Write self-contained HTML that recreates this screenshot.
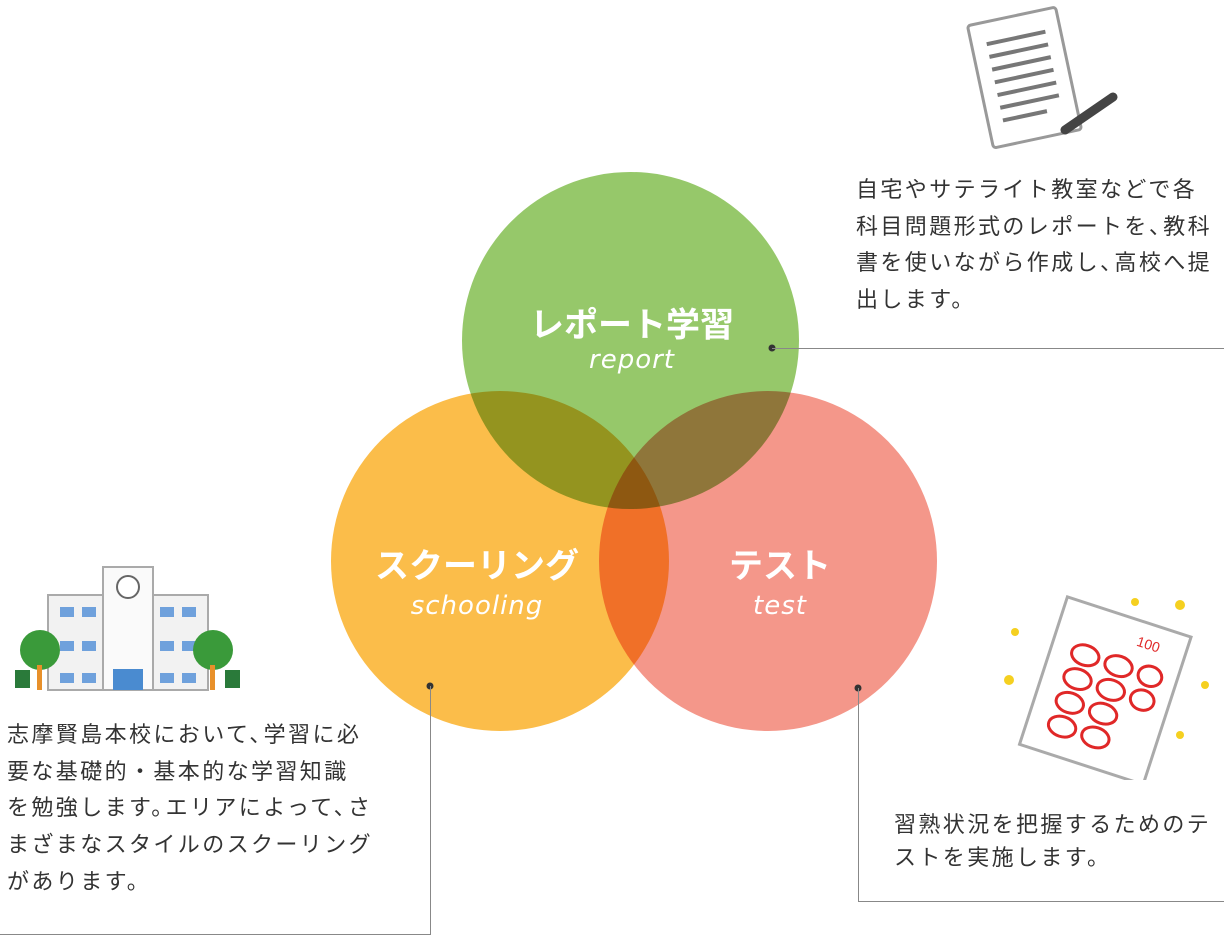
<!DOCTYPE html>
<html><head><meta charset="utf-8"><style>
html,body{margin:0;padding:0;background:#fff}
body{width:1224px;height:938px;position:relative;overflow:hidden;font-family:"Liberation Sans","Noto Sans CJK JP",sans-serif}
.c{position:absolute;border-radius:50%;mix-blend-mode:multiply}
.t{position:absolute;color:#333;font-size:22px;line-height:36.7px;white-space:nowrap;letter-spacing:2.4px}
.p{margin-right:-10px}
.lab{position:absolute;color:#fff;font-weight:bold;font-size:34px;transform:translate(-50%,-50%);white-space:nowrap}
.sub{position:absolute;color:#fff;font-size:26px;font-style:italic;font-family:"DejaVu Sans",sans-serif;transform:translate(-50%,-50%);font-weight:normal;letter-spacing:1px}
.ln{position:absolute;background:#888}
.dot{position:absolute;width:7px;height:7px;border-radius:50%;background:#333;transform:translate(-50%,-50%)}
</style></head><body>
<div class="c" style="left:462px;top:172px;width:337px;height:337px;background:#96c86a"></div>
<div class="c" style="left:331px;top:391px;width:338px;height:340px;background:#fbbd4a"></div>
<div class="c" style="left:599px;top:391px;width:338px;height:340px;background:#f4978a"></div>

<div class="lab" style="left:632px;top:322px">レポート学習</div>
<div class="sub" style="left:632px;top:360px">report</div>
<div class="lab" style="left:477px;top:563px">スクーリング</div>
<div class="sub" style="left:477px;top:606px">schooling</div>
<div class="lab" style="left:780px;top:563px">テスト</div>
<div class="sub" style="left:780px;top:606px">test</div>

<div class="dot" style="left:772px;top:348px"></div>
<div class="ln" style="left:772px;top:348px;width:452px;height:1px"></div>
<div class="dot" style="left:430px;top:686px"></div>
<div class="ln" style="left:430px;top:686px;width:1px;height:249px"></div>
<div class="ln" style="left:0;top:934px;width:431px;height:1px"></div>
<div class="dot" style="left:858px;top:688px"></div>
<div class="ln" style="left:858px;top:688px;width:1px;height:214px"></div>
<div class="ln" style="left:858px;top:901px;width:366px;height:1px"></div>

<div class="t" style="left:856px;top:172px">自宅やサテライト教室などで各<br>科目問題形式のレポートを<span class="p">、</span>教科<br>書を使いながら作成し<span class="p">、</span>高校へ提<br>出します。</div>
<div class="t" style="left:7px;top:717px">志摩賢島本校において<span class="p">、</span>学習に必<br>要な基礎的・基本的な学習知識<br>を勉強します<span class="p">。</span>エリアによって<span class="p">、</span>さ<br>まざまなスタイルのスクーリング<br>があります。</div>
<div class="t" style="left:894px;top:808px;line-height:33px">習熟状況を把握するためのテ<br>ストを実施します。</div>

<svg style="position:absolute;left:960px;top:5px" width="170" height="150">
<g transform="rotate(-12 65 75)"><rect x="20" y="10" width="90" height="125" fill="#fff" stroke="#999" stroke-width="3" rx="3"/>
<g stroke="#777" stroke-width="4"><line x1="35" y1="32" x2="95" y2="32"/><line x1="35" y1="45" x2="95" y2="45"/><line x1="35" y1="58" x2="95" y2="58"/><line x1="35" y1="71" x2="95" y2="71"/><line x1="35" y1="84" x2="95" y2="84"/><line x1="35" y1="97" x2="95" y2="97"/><line x1="35" y1="110" x2="80" y2="110"/></g></g>
<line x1="105" y1="125" x2="153" y2="92" stroke="#444" stroke-width="9" stroke-linecap="round"/>
</svg>

<svg style="position:absolute;left:15px;top:565px" width="225" height="130">
<rect x="33" y="30" width="160" height="95" fill="#f2f2f2" stroke="#aaa" stroke-width="2"/>
<rect x="88" y="2" width="50" height="123" fill="#fafafa" stroke="#aaa" stroke-width="2"/>
<circle cx="113" cy="22" r="11" fill="#fff" stroke="#666" stroke-width="2"/>
<g fill="#6fa1dc"><rect x="45" y="42" width="14" height="10"/><rect x="67" y="42" width="14" height="10"/><rect x="145" y="42" width="14" height="10"/><rect x="167" y="42" width="14" height="10"/>
<rect x="45" y="76" width="14" height="10"/><rect x="67" y="76" width="14" height="10"/><rect x="145" y="76" width="14" height="10"/><rect x="167" y="76" width="14" height="10"/>
<rect x="45" y="108" width="14" height="10"/><rect x="67" y="108" width="14" height="10"/><rect x="145" y="108" width="14" height="10"/><rect x="167" y="108" width="14" height="10"/>
<rect x="98" y="104" width="30" height="21" fill="#4a8bd0"/></g>
<circle cx="25" cy="85" r="20" fill="#3a9a3a"/><rect x="22" y="100" width="5" height="25" fill="#e8902a"/>
<circle cx="198" cy="85" r="20" fill="#3a9a3a"/><rect x="195" y="100" width="5" height="25" fill="#e8902a"/>
<rect x="0" y="105" width="15" height="18" fill="#2a7a3a"/><rect x="210" y="105" width="15" height="18" fill="#2a7a3a"/>
</svg>

<svg style="position:absolute;left:995px;top:590px" width="225" height="190">
<g transform="rotate(18 100 100)"><rect x="45" y="20" width="130" height="155" fill="#fff" stroke="#aaa" stroke-width="3"/>
<g fill="none" stroke="#e02828" stroke-width="3"><ellipse cx="80" cy="70" rx="14" ry="10"/><ellipse cx="80" cy="95" rx="14" ry="10"/><ellipse cx="80" cy="120" rx="14" ry="10"/><ellipse cx="80" cy="145" rx="14" ry="10"/>
<ellipse cx="115" cy="70" rx="14" ry="10"/><ellipse cx="115" cy="95" rx="14" ry="10"/><ellipse cx="115" cy="120" rx="14" ry="10"/><ellipse cx="115" cy="145" rx="14" ry="10"/>
<ellipse cx="148" cy="70" rx="12" ry="10"/><ellipse cx="148" cy="95" rx="12" ry="10"/></g>
<text x="125" y="45" fill="#e02828" font-size="14" font-family="Liberation Sans">100</text></g>
<g fill="#f5d020"><circle cx="140" cy="12" r="4"/><circle cx="185" cy="15" r="5"/><circle cx="20" cy="42" r="4"/><circle cx="14" cy="90" r="5"/><circle cx="210" cy="95" r="4"/><circle cx="185" cy="145" r="4"/></g>
</svg>
</body></html>
